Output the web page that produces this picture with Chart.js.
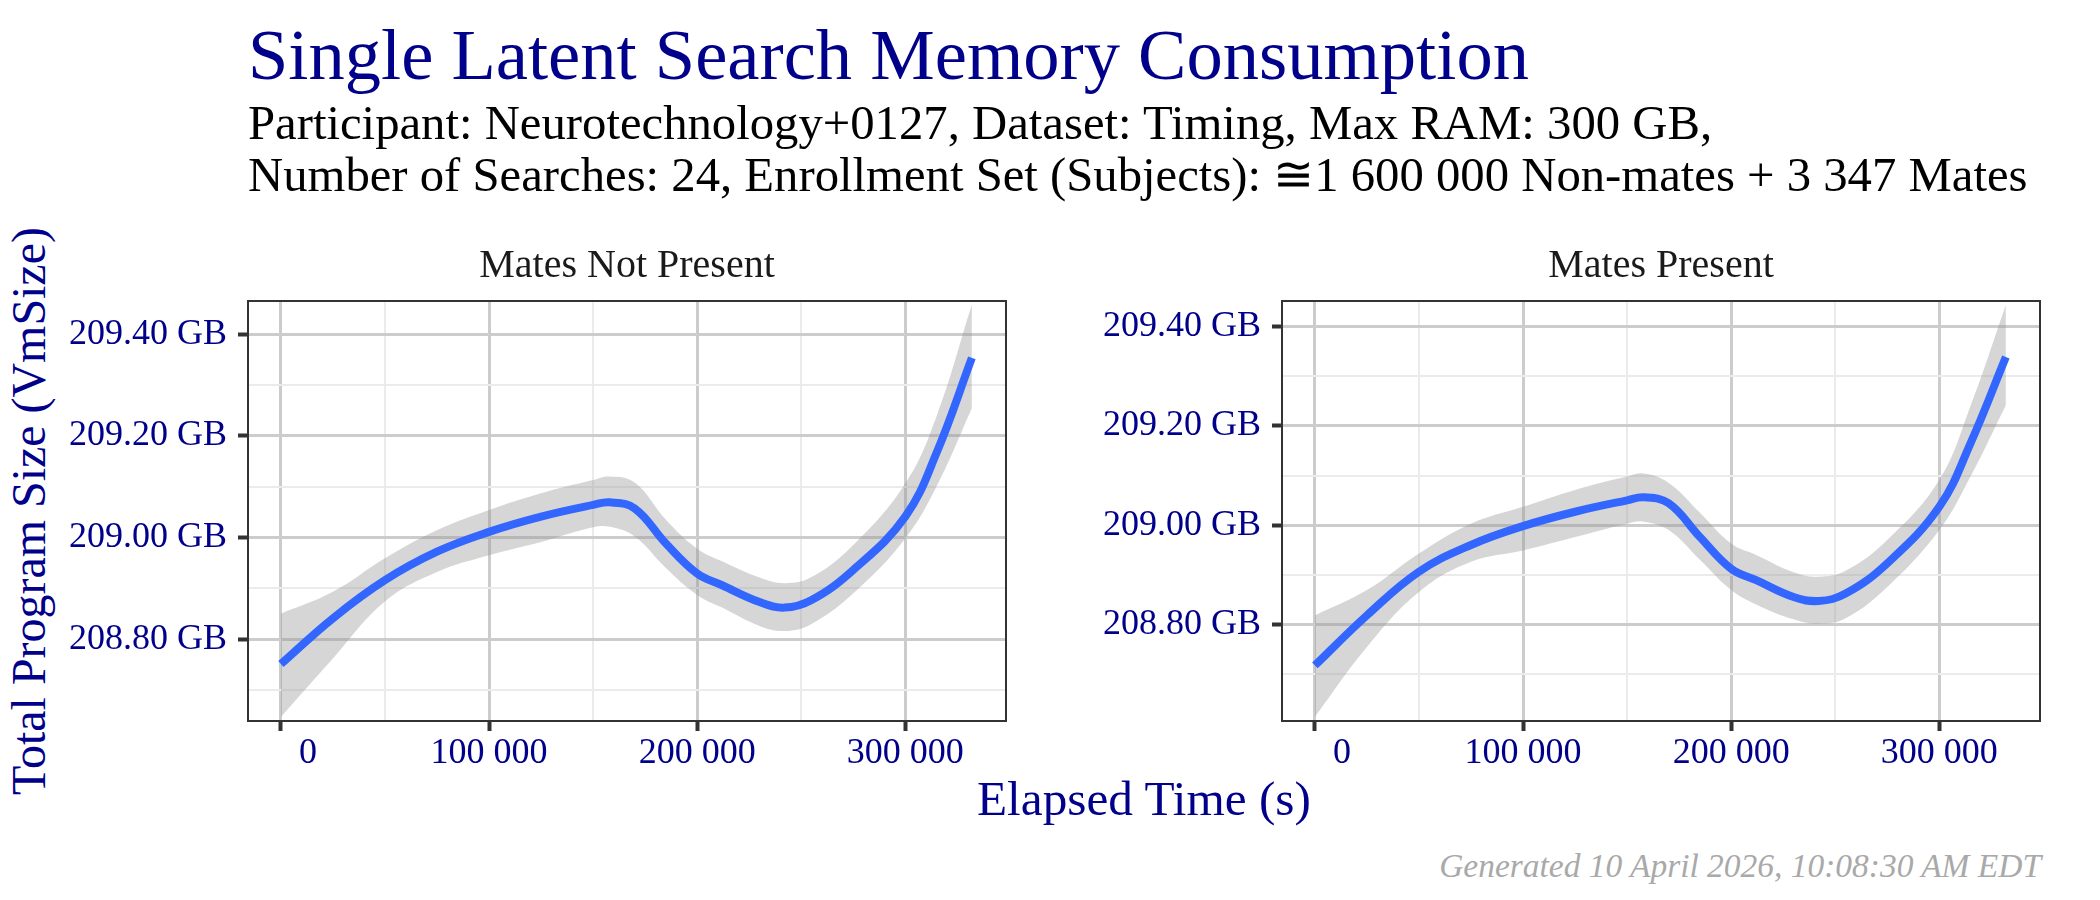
<!DOCTYPE html>
<html lang="en">
<head>
<meta charset="UTF-8">
<title>Single Latent Search Memory Consumption</title>
<script src="https://cdn.jsdelivr.net/npm/chart.js"></script>
<style>
  body {
    margin: 0;
    width: 2100px;
    height: 900px;
    position: relative;
    overflow: hidden;
    background: #ffffff;
    font-family: 'Liberation Serif', serif;
  }
  .txt { position: absolute; white-space: nowrap; line-height: 1; }
  canvas { position: absolute; }
</style>
</head>
<body>
<div class="txt" id="title" style="color:#00008b">Single Latent Search Memory Consumption</div>
<div class="txt" id="sub1" style="color:#000000">Participant: Neurotechnology+0127, Dataset: Timing, Max RAM: 300 GB,</div>
<div class="txt" id="sub2" style="color:#000000">Number of Searches: 24, Enrollment Set (Subjects): ≅1 600 000 Non-mates + 3 347 Mates</div>
<div class="txt" id="ytitle" style="color:#00008b">Total Program Size (VmSize)</div>
<div class="txt" id="xtitle" style="color:#00008b">Elapsed Time (s)</div>
<div class="txt" id="footer" style="color:#a9a9a9;font-style:italic">Generated 10 April 2026, 10:08:30 AM EDT</div>
<canvas id="leftPanel" width="1030" height="560" style="left:0px;top:240px"></canvas>
<canvas id="rightPanel" width="1030" height="560" style="left:1040px;top:240px"></canvas>
<script>
const timeS = [0, 25000, 50000, 75000, 100000, 125000, 150000, 158000, 170000, 185000, 200000, 212000, 230000, 242000, 255000, 275000, 300000, 315000, 332000];

// Mates Not Present: fit and confidence band (GB)
const notPresentFit  = [208.751, 208.841, 208.916, 208.972, 209.011, 209.041, 209.064, 209.069, 209.057, 208.988, 208.929, 208.906, 208.873, 208.862, 208.877, 208.936, 209.041, 209.166, 209.353];
const notPresentLow  = [208.647, 208.762, 208.874, 208.932, 208.965, 208.991, 209.020, 209.021, 209.002, 208.940, 208.887, 208.862, 208.826, 208.816, 208.830, 208.890, 208.998, 209.100, 209.254];
const notPresentHigh = [208.850, 208.893, 208.959, 209.014, 209.054, 209.087, 209.113, 209.120, 209.108, 209.035, 208.978, 208.953, 208.921, 208.910, 208.922, 208.985, 209.106, 209.238, 209.458];

// Mates Present: fit and confidence band (GB)
const presentFit  = [208.717, 208.818, 208.906, 208.960, 208.998, 209.027, 209.050, 209.056, 209.044, 208.976, 208.912, 208.889, 208.855, 208.847, 208.862, 208.923, 209.037, 209.165, 209.339];
const presentLow  = [208.613, 208.754, 208.865, 208.926, 208.949, 208.976, 209.003, 209.007, 208.990, 208.930, 208.869, 208.840, 208.810, 208.801, 208.812, 208.875, 208.990, 209.098, 209.242];
const presentHigh = [208.818, 208.869, 208.943, 209.003, 209.037, 209.071, 209.098, 209.104, 209.085, 209.025, 208.963, 208.940, 208.905, 208.896, 208.908, 208.970, 209.091, 209.240, 209.444];

const panelTitles = ['Mates Not Present', 'Mates Present'];
const xTicks = [0, 50000, 100000, 150000, 200000, 250000, 300000];
// "0" is padded on the left like the original's fixed-width labels
const xTickLabels = { 0: '      0', 100000: '100 000', 200000: '200 000', 300000: '300 000' };
const yTicks = [208.7, 208.8, 208.9, 209.0, 209.1, 209.2, 209.3, 209.4];

// text sizing: scale the font so the text spans the measured width
function fitText(id, width) {
  const el = document.getElementById(id);
  el.style.fontSize = '100px';
  return 100 * width / el.getBoundingClientRect().width;
}
function place(id, size, x, baseline, align) {
  const el = document.getElementById(id);
  el.style.fontSize = size + 'px';
  el.style.top = (baseline - 0.8375 * size) + 'px';
  const w = el.getBoundingClientRect().width;
  el.style.left = (align === 'center' ? x - w / 2 : align === 'right' ? x - w : x) + 'px';
}

place('title', fitText('title', 1281), 248, 80, 'left');
const subSize = (fitText('sub1', 1470) + fitText('sub2', 1773)) / 2;
place('sub1', subSize, 248, 140, 'left');
place('sub2', subSize, 248, 192, 'left');
place('xtitle', fitText('xtitle', 334), 1144, 815, 'center');
place('footer', fitText('footer', 602), 2041, 877, 'right');

// rotated y title, centred on the panels
const yt = document.getElementById('ytitle');
yt.style.fontSize = fitText('ytitle', 568) + 'px';
yt.style.left = '29px';
yt.style.top = '511px';
yt.style.transform = 'translate(-50%, -50%) rotate(-90deg)';

const isMajorX = v => v % 100000 === 0;
const isMajorY = v => Math.round(v * 10) % 2 === 0;

const panelFrame = {
  id: 'panelFrame',
  afterDraw(chart) {
    const a = chart.chartArea;
    const ctx = chart.ctx;
    ctx.save();
    ctx.strokeStyle = '#333333';
    ctx.lineWidth = 2;
    ctx.strokeRect(a.left, a.top, a.right - a.left, a.bottom - a.top);
    ctx.restore();
  }
};

function makePanel(canvasId, title, fit, low, high, yMin, yMax, yAxisWidth, rightPad) {
  const pts = arr => timeS.map((t, i) => ({ x: t, y: arr[i] }));
  const band = { borderWidth: 0, borderColor: 'rgba(0,0,0,0)', pointRadius: 0, tension: 0.4, order: 1 };
  return new Chart(document.getElementById(canvasId), {
    type: 'line',
    data: {
      datasets: [
        Object.assign({ data: pts(high), fill: '+1', backgroundColor: 'rgba(153,153,153,0.4)' }, band),
        Object.assign({ data: pts(low), fill: false }, band),
        { data: pts(fit), borderColor: '#3366ff', borderWidth: 8, pointRadius: 0, fill: false, tension: 0.4, order: 0 }
      ]
    },
    options: {
      responsive: false,
      animation: false,
      devicePixelRatio: 1,
      layout: { padding: { left: 0, right: rightPad, top: 0, bottom: 0 } },
      plugins: {
        legend: { display: false },
        tooltip: { enabled: false },
        title: {
          display: true, text: title, fullSize: false, color: '#1a1a1a',
          font: { size: 40, weight: 'normal', lineHeight: 1 }, padding: { top: 6, bottom: 15 }
        }
      },
      scales: {
        x: {
          type: 'linear', min: -15800, max: 348400,
          afterBuildTicks: s => { s.ticks = xTicks.map(v => ({ value: v })); },
          afterFit: s => { s.height = 79; },
          border: { display: false },
          grid: {
            color: c => isMajorX(c.tick.value) ? '#cccccc' : '#ebebeb',
            lineWidth: c => isMajorX(c.tick.value) ? 3 : 2,
            tickColor: c => isMajorX(c.tick.value) ? '#333333' : 'rgba(0,0,0,0)',
            tickLength: 10, tickWidth: 4
          },
          ticks: {
            autoSkip: false, maxRotation: 0, padding: 1, color: '#00008b', font: { size: 36 },
            callback: v => xTickLabels[v] || ''
          }
        },
        y: {
          min: yMin, max: yMax,
          afterBuildTicks: s => { s.ticks = yTicks.map(v => ({ value: v })); },
          afterFit: s => { s.width = yAxisWidth; },
          border: { display: false },
          grid: {
            color: c => isMajorY(c.tick.value) ? '#cccccc' : '#ebebeb',
            lineWidth: c => isMajorY(c.tick.value) ? 3 : 2,
            tickColor: c => isMajorY(c.tick.value) ? '#333333' : 'rgba(0,0,0,0)',
            tickLength: 10, tickWidth: 4
          },
          ticks: {
            autoSkip: false, padding: 11, color: '#00008b', font: { size: 36 },
            callback: v => isMajorY(v) ? v.toFixed(2) + ' GB' : ''
          }
        }
      }
    },
    plugins: [panelFrame]
  });
}

Chart.defaults.font.family = "'Liberation Serif', serif";
makePanel('leftPanel', panelTitles[0], notPresentFit, notPresentLow, notPresentHigh, 208.639, 209.465, 248, 24);
makePanel('rightPanel', panelTitles[1], presentFit, presentLow, presentHigh, 208.605, 209.452, 242, 30);
</script>
</body>
</html>
